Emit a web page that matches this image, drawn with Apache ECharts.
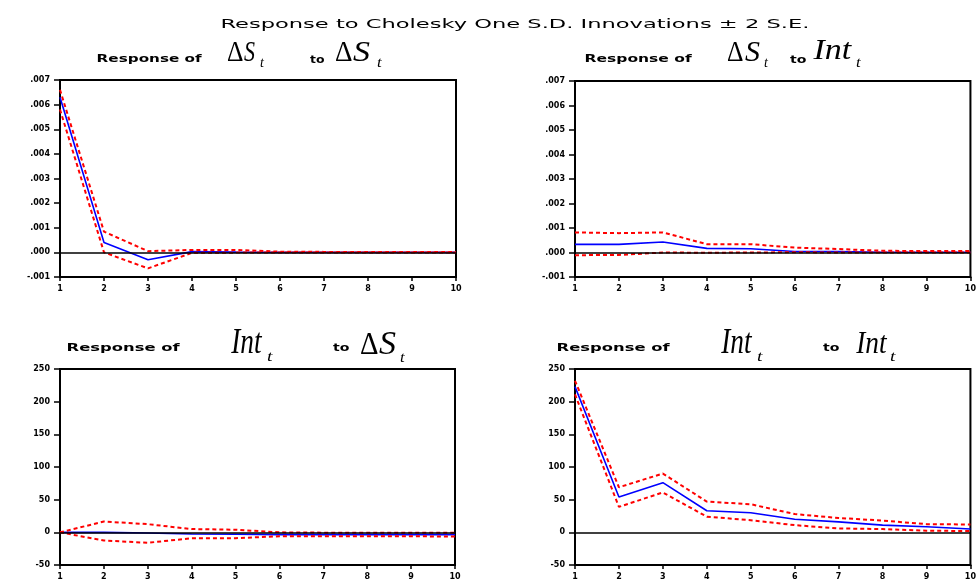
<!DOCTYPE html>
<html>
<head>
<meta charset="utf-8">
<script src="https://cdn.jsdelivr.net/npm/echarts@6/dist/echarts.min.js"></script>
<style>
html,body{margin:0;padding:0;background:#fff;}
#chart{width:979px;height:581px;}
</style>
</head>
<body>
<div id="chart"></div>
<script>
// ---- data ----
const periods = [1, 2, 3, 4, 5, 6, 7, 8, 9, 10];

// Response of dS to dS
const dsDsResp  = [0.0063, 0.0004, -0.0003, 0.00003, 0.00001, 0, 0, 0, 0, 0];
const dsDsUpper = [0.0066, 0.00084, 0.00005, 0.0001, 0.0001, 0.00003, 0.00002, 0.00002, 0.00002, 0.00002];
const dsDsLower = [0.0058, 0.0000, -0.00065, -0.00002, -0.00001, 0, 0, 0, 0, 0];

// Response of dS to Int
const dsIntResp  = [0.00033, 0.00033, 0.00043, 0.00017, 0.00015, 0.00004, 0.00004, 0.00001, 0.00001, 0.00001];
const dsIntUpper = [0.00082, 0.00079, 0.00082, 0.00034, 0.00034, 0.0002, 0.00014, 0.00007, 0.00006, 0.00006];
const dsIntLower = [-0.00011, -0.0001, 0.0, -0.00001, 0.0, 0.00001, 0.0, 0.0, 0.0, 0.0];

// Response of Int to dS
const intDsResp  = [0, 0, -1, -2.5, -3, -3.5, -3.5, -3.5, -3.5, -3.5];
const intDsUpper = [0, 16.5, 12.5, 5, 4, 0, -0.5, -0.5, -0.5, -0.5];
const intDsLower = [0, -12.5, -16, -9, -9, -6, -6, -6, -6, -6.5];

// Response of Int to Int
const intIntResp  = [223, 54, 76, 33, 30, 20, 16, 11, 8.5, 5];
const intIntUpper = [232, 69, 90, 47, 43, 28, 22, 18, 12.5, 12];
const intIntLower = [211, 39, 61, 24, 18.5, 11, 6, 5, 2.5, 2];

// axis ranges / tick labels
const topAxis = {min: -0.001, max: 0.007, interval: 0.001};
const botAxis = {min: -50, max: 250, interval: 50};

const titleText = 'Response to Cholesky One S.D. Innovations \u00b1 2 S.E.';

// ---- layout ----
const grids = [
  {left: 60,  top: 80,  width: 396, height: 197},
  {left: 575, top: 81,  width: 398, height: 196},
  {left: 60,  top: 369, width: 395, height: 199},
  {left: 575, top: 369, width: 397, height: 199}
];
const panels = [
  {resp: dsDsResp,  up: dsDsUpper,  lo: dsDsLower,  ax: topAxis, small: true},
  {resp: dsIntResp, up: dsIntUpper, lo: dsIntLower, ax: topAxis, small: true},
  {resp: intDsResp, up: intDsUpper, lo: intDsLower, ax: botAxis, small: false},
  {resp: intIntResp,up: intIntUpper,lo: intIntLower,ax: botAxis, small: false}
];

function pairs(arr) { return periods.map((p, i) => [p, arr[i]]); }
function fmtSmall(v) {
  const r = Math.round(v * 1000);
  if (r === 0) return '.000';
  const s = (Math.abs(r) / 1000).toFixed(3).replace(/^0/, '');
  return (r < 0 ? '-' : '') + s;
}

const labelFont = {fontSize: 8, fontWeight: 'bold', fontFamily: 'DejaVu Sans', color: '#000'};

const option = {
  backgroundColor: '#fff',
  animation: false,
  grid: grids.map(g => Object.assign({show: true, borderColor: '#000', borderWidth: 2, backgroundColor: 'transparent'}, g)),
  xAxis: grids.map((g, i) => ({
    type: 'value', gridIndex: i, min: 1, max: 10, interval: 1,
    axisLine: {show: true, onZero: false, lineStyle: {color: '#000', width: 2}},
    axisTick: {show: true, length: 4, lineStyle: {color: '#000', width: 1.5}},
    axisLabel: Object.assign({margin: 8}, labelFont),
    splitLine: {show: false}
  })),
  yAxis: panels.map((p, i) => ({
    type: 'value', gridIndex: i, min: p.ax.min, max: p.ax.max, interval: p.ax.interval,
    axisLine: {show: true, lineStyle: {color: '#000', width: 2}},
    axisTick: {show: true, length: 6, lineStyle: {color: '#000', width: 1.5}},
    axisLabel: Object.assign({margin: 10, formatter: p.small ? fmtSmall : (v => String(Math.round(v)))}, labelFont),
    splitLine: {show: false}
  })),
  series: []
};

panels.forEach((p, i) => {
  option.series.push({
    type: 'line', xAxisIndex: i, yAxisIndex: i, data: pairs(p.resp),
    symbol: 'none', lineStyle: {color: '#0000ff', width: 1.6}, z: 3,
    markLine: {silent: true, symbol: 'none', label: {show: false}, animation: false,
      lineStyle: {color: '#000', width: 1.5, type: 'solid'}, data: [{yAxis: 0}]}
  });
  [p.up, p.lo].forEach(arr => option.series.push({
    type: 'line', xAxisIndex: i, yAxisIndex: i, data: pairs(arr),
    symbol: 'none', lineStyle: {color: '#ff0000', width: 2, type: [4, 3]}, z: 4
  }));
});

// ---- text placement (fit ink box) ----
const mctx = document.createElement('canvas').getContext('2d');
function fit(text, font, x0, x1, y0, y1) {
  mctx.font = font; mctx.textBaseline = 'middle'; mctx.textAlign = 'left';
  const m = mctx.measureText(text);
  const inkW = m.actualBoundingBoxLeft + m.actualBoundingBoxRight;
  const inkH = m.actualBoundingBoxAscent + m.actualBoundingBoxDescent;
  const sx = (x1 - x0) / inkW, sy = (y1 - y0) / inkH;
  return {
    type: 'text', silent: true,
    x: x0 + sx * m.actualBoundingBoxLeft, y: y0 + sy * m.actualBoundingBoxAscent,
    scaleX: sx, scaleY: sy,
    style: {text: text, font: font, fill: '#000', textAlign: 'left', textVerticalAlign: 'middle', align: 'left', verticalAlign: 'middle'}
  };
}
const fSans = "normal 14px 'DejaVu Sans'";
const fBold = "bold 11px 'DejaVu Sans'";
const fUp = "normal 24px 'Liberation Serif'";
const fIt = "italic 24px 'Liberation Serif'";
const fSub = "italic 14px 'Liberation Serif'";

const texts = [
  [titleText, fSans, 222, 807, 18, 31],
  // top-left
  ['Response of', fBold, 98, 202, 55, 64],
  ['\u0394', fUp, 227, 243, 43, 61], ['S', fIt, 244, 255, 42, 61], ['t', fSub, 260, 265, 58, 67],
  ['to', fBold, 310, 325, 56, 63],
  ['\u0394', fUp, 335, 352, 43, 61], ['S', fIt, 353, 370, 42, 61], ['t', fSub, 377, 383, 58, 67],
  // top-right
  ['Response of', fBold, 586, 692, 55, 64],
  ['\u0394', fUp, 727, 743, 43, 61], ['S', fIt, 745, 760, 42, 61], ['t', fSub, 764, 769, 58, 67],
  ['to', fBold, 790, 807, 56, 63],
  ['Int', fIt, 812, 853, 41, 59], ['t', fSub, 856, 862, 58, 67],
  // bottom-left
  ['Response of', fBold, 68, 180, 343, 353],
  ['Int', fIt, 230, 263, 331, 353], ['t', fSub, 267, 274, 352, 361],
  ['to', fBold, 333, 350, 344, 351],
  ['\u0394', fUp, 360, 378, 334, 354], ['S', fIt, 379, 396, 333, 354], ['t', fSub, 400, 406, 353, 362],
  // bottom-right
  ['Response of', fBold, 558, 670, 343, 353],
  ['Int', fIt, 720, 753, 331, 353], ['t', fSub, 757, 764, 352, 361],
  ['to', fBold, 823, 840, 344, 351],
  ['Int', fIt, 855, 888, 333, 353], ['t', fSub, 890, 897, 352, 361]
];
option.graphic = {elements: texts.map(t => fit.apply(null, t))};

const chart = echarts.init(document.getElementById('chart'), null, {renderer: 'canvas'});
chart.setOption(option);
</script>
</body>
</html>
